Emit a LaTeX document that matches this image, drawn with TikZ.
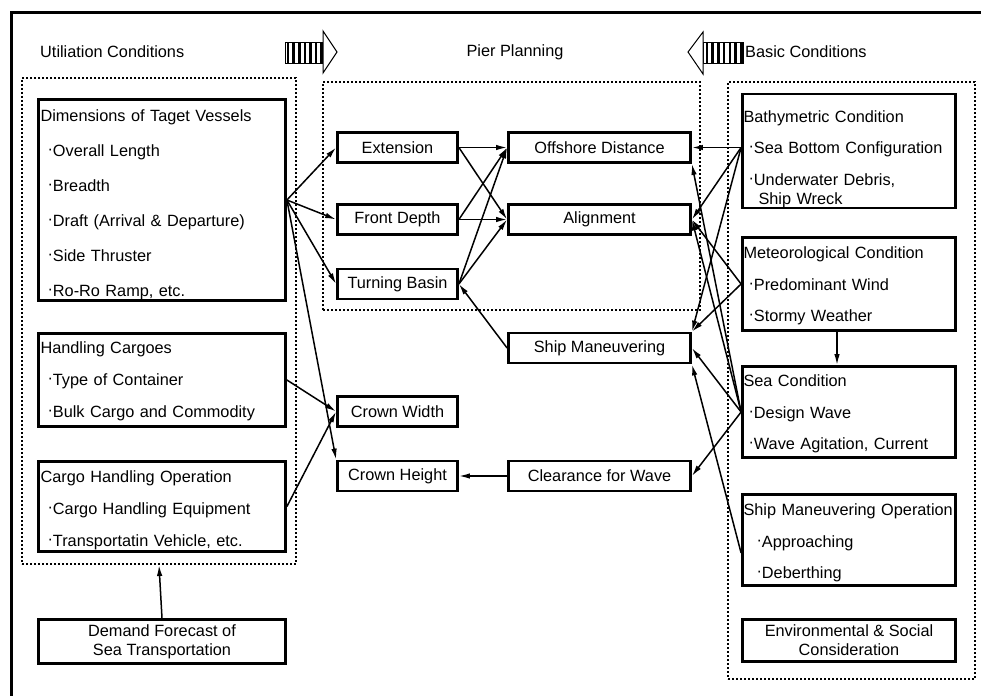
\documentclass[tikz,border=0pt]{standalone}
\usepackage{fontspec}
\setmainfont{Liberation Sans}
\usepackage{tikz}
\usetikzlibrary{
  arrows.meta,
  positioning
}
\newcommand{\bul}{\raisebox{2pt}{·}}
\newcommand{\lift}[1]{\rule{0pt}{#1}}
\tikzset{
plainblock/.style={
  draw,
  line width=2.8pt,
  inner sep=0pt,
  align=center,
  font=\fontsize{16.3}{19}\selectfont
},
smallblock/.style={
  plainblock,
  minimum width=120pt,
  minimum height=30pt
},
wideblock/.style={
  plainblock,
  minimum width=182pt,
  minimum height=30pt
},
leftlist/.style={
  plainblock,
  align=left,
  inner xsep=2pt,
  minimum width=247pt,
  text width=243pt,
  font=\fontsize{16.3}{32}\selectfont
},
rightlist/.style={
  plainblock,
  align=left,
  inner xsep=1pt,
  minimum width=213pt,
  text width=211pt,
  font=\fontsize{16.3}{31.5}\selectfont
},
groupframe/.style={
  draw,
  dotted,
  line width=2pt,
  inner sep=0pt
},
titlelabel/.style={
  font=\fontsize{16.3}{19}\selectfont,
  inner sep=0pt
},
arrow/.style={
  -{Latex[length=11pt,width=5.5pt]},
  line width=1.5pt
},
stripe/.style={
  line width=2.6pt
}
}
\begin{document}
\begin{tikzpicture}[x=1pt,y=-1pt]
\useasboundingbox (0,0) rectangle (981,696);
\draw[line width=3pt] (981,12) -- (11,12) -- (11,696);

\node[titlelabel, anchor=west] (utillabel) at (40,52) {Utiliation Conditions};
\node[titlelabel] (pierlabel) at (515,52) {Pier Planning};
\node[titlelabel, anchor=west] (basiclabel) at (745,52) {Basic Conditions};

% hatched block arrows
\draw[line width=1pt] (285,42) rectangle (323,63);
\foreach \i in {0,...,6}
  \draw[stripe] (288+\i*5.6,42) -- (288+\i*5.6,63);
\draw[line width=1pt, fill=white] (323,31) -- (337,52) -- (323,73) -- cycle;
\draw[line width=1pt] (703,42) rectangle (743,63);
\foreach \i in {0,...,6}
  \draw[stripe] (707+\i*5.7,42) -- (707+\i*5.7,63);
\draw[line width=1pt, fill=white] (703,32) -- (688,52) -- (703,74) -- cycle;

\node[groupframe, minimum width=274pt, minimum height=486pt] (utilarea) at (159,321) {};
\node[groupframe, minimum width=377pt, minimum height=228pt] (pierarea) at (511.5,196) {};
\node[groupframe, minimum width=247pt, minimum height=597pt] (basicarea) at (851.5,380.5) {};

\node[leftlist, minimum height=197pt] (dims) at (162,200) {\lift{22pt}Dimensions of Taget Vessels\\[3pt]
  \hspace*{7pt}\bul Overall Length\\[3pt]
  \hspace*{7pt}\bul Breadth\\[3pt]
  \hspace*{7pt}\bul Draft (Arrival \& Departure)\\[3pt]
  \hspace*{7pt}\bul Side Thruster\\[3pt]
  \hspace*{7pt}\bul Ro-Ro Ramp, etc.};
\node[leftlist, minimum height=93pt] (cargoes) at (162,380) {\lift{14pt}Handling Cargoes\\
  \hspace*{7pt}\bul Type of Container\\
  \hspace*{7pt}\bul Bulk Cargo and Commodity};
\node[leftlist, minimum height=90pt] (handling) at (162,506.5) {\lift{20pt}Cargo Handling Operation\\
  \hspace*{7pt}\bul Cargo Handling Equipment\\
  \hspace*{7pt}\bul Transportatin Vehicle, etc.};
\node[plainblock, minimum width=247pt, minimum height=44pt] (demand) at (162,641.5) {Demand Forecast of\\Sea Transportation};

\node[smallblock] (ext) at (397.5,147.5) {Extension};
\node[smallblock] (depth) at (397.5,219.5) {Front Depth};
\node[smallblock] (basin) at (397.5,284) {Turning Basin};
\node[smallblock] (crownw) at (397.5,411.5) {Crown Width};
\node[smallblock] (crownh) at (397.5,476) {Crown Height};

\node[wideblock] (offshore) at (599.5,147.5) {Offshore Distance};
\node[wideblock] (alignment) at (599.5,219.5) {Alignment};
\node[wideblock] (shipman) at (599.5,348) {Ship Maneuvering};
\node[wideblock] (clearance) at (599.5,476) {Clearance for Wave};

\node[rightlist, minimum height=99pt] (bathy) at (849,151) {\lift{28pt}Bathymetric Condition\\
  \hspace*{5pt}\bul Sea Bottom Configuration\\
  \hspace*{5pt}\bul Underwater Debris,\\[-12pt]
  \hspace*{15pt}Ship Wreck};
\node[rightlist, minimum height=93pt] (meteo) at (849,284) {\lift{16pt}Meteorological Condition\\
  \hspace*{5pt}\bul Predominant Wind\\
  \hspace*{5pt}\bul Stormy Weather};
\node[rightlist, minimum height=91pt] (sea) at (849,412) {\lift{16pt}Sea Condition\\
  \hspace*{5pt}\bul Design Wave\\
  \hspace*{5pt}\bul Wave Agitation, Current};
\node[rightlist, minimum height=91pt] (shipop) at (849,540) {\lift{18pt}Ship Maneuvering Operation\\
  \hspace*{13pt}\bul Approaching\\
  \hspace*{13pt}\bul Deberthing};
\node[plainblock, minimum width=213pt, minimum height=42pt] (envsoc) at (849,640.5) {Environmental \& Social\\Consideration};

\draw[arrow] (dims.east) -- (ext.west);
\draw[arrow] (dims.east) -- (depth.west);
\draw[arrow] (dims.east) -- (basin.west);
\draw[arrow] (dims.east) -- (crownh.north west);
\draw[arrow] (cargoes.east) -- (crownw.west);
\draw[arrow] (handling.east) -- (crownw.west);
\draw[arrow] (demand.north) -- (utilarea.south);
\foreach \src in {ext,depth,basin}{
  \draw[arrow] (\src.east) -- (offshore.west);
  \draw[arrow] (\src.east) -- (alignment.west);
}
\draw[arrow] (shipman.west) -- (basin.east);
\draw[arrow] (clearance.west) -- (crownh.east);

\coordinate (bathysrc) at (offshore.east -| bathy.west);
\draw[arrow] (bathysrc) -- (offshore.east);
\draw[arrow] (bathysrc) -- (alignment.east);
\draw[arrow] (bathysrc) -- (shipman.north east);
\draw[arrow] (meteo.west) -- (alignment.east);
\draw[arrow] (meteo.west) -- (shipman.north east);
\draw[arrow] (sea.west) -- (offshore.south east);
\draw[arrow] (sea.west) -- (alignment.east);
\draw[arrow] (sea.west) -- (shipman.east);
\draw[arrow] (sea.west) -- (clearance.east);
\draw[arrow] ([yshift=-13pt]shipop.west) -- (shipman.south east);
\draw[arrow] ([xshift=-12pt]meteo.south) -- ([xshift=-12pt]sea.north);
\end{tikzpicture}
\end{document}
